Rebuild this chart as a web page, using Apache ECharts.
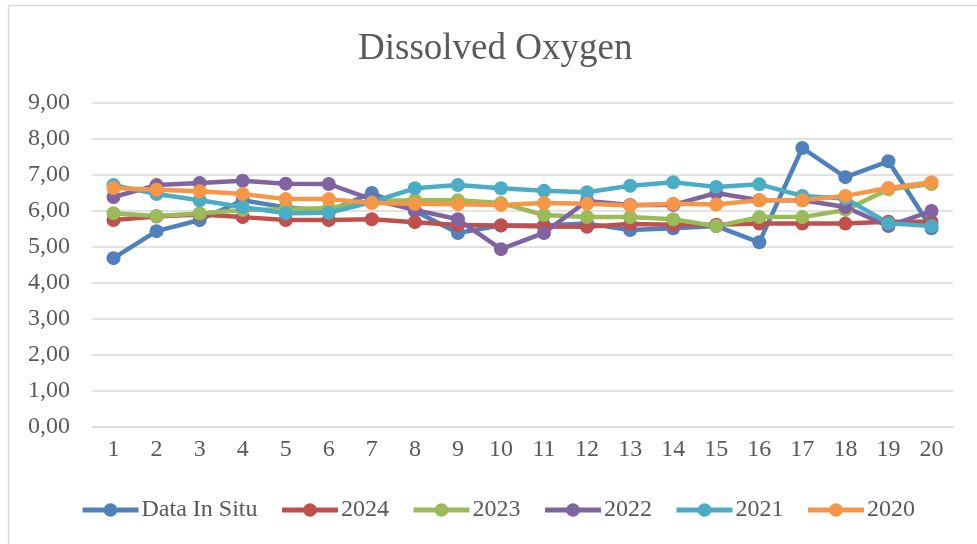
<!DOCTYPE html>
<html>
<head>
<meta charset="utf-8">
<script src="https://cdn.jsdelivr.net/npm/echarts@6/dist/echarts.min.js"></script>
<style>
  html, body { margin: 0; padding: 0; background: #fff; }
  #chart { width: 977px; height: 544px; }
</style>
</head>
<body>
<div id="chart"></div>
<script>
  // sample points 1..20
  var categories = ['1','2','3','4','5','6','7','8','9','10','11','12','13','14','15','16','17','18','19','20'];

  var inSitu = [4.69,5.44,5.75,6.30,6.10,6.00,6.50,6.00,5.39,5.60,5.60,5.65,5.47,5.52,5.58,5.13,7.75,6.94,7.38,5.52];
  var y2024  = [5.75,5.85,5.90,5.83,5.75,5.75,5.77,5.69,5.61,5.60,5.57,5.56,5.64,5.62,5.62,5.65,5.65,5.65,5.70,5.70];
  var y2023  = [5.94,5.86,5.93,6.03,6.05,6.08,6.28,6.30,6.30,6.22,5.89,5.83,5.83,5.77,5.58,5.83,5.83,6.03,6.60,6.75];
  var y2022  = [6.39,6.72,6.78,6.84,6.76,6.75,6.32,6.03,5.77,4.94,5.39,6.28,6.17,6.17,6.50,6.30,6.30,6.11,5.58,6.00];
  var y2021  = [6.72,6.47,6.30,6.11,5.94,5.95,6.25,6.63,6.72,6.63,6.56,6.52,6.70,6.80,6.67,6.74,6.42,6.35,5.66,5.58];
  var y2020  = [6.64,6.59,6.55,6.47,6.33,6.33,6.22,6.20,6.19,6.17,6.22,6.20,6.15,6.20,6.18,6.30,6.30,6.42,6.64,6.80];

  var seriesNames = ['Data In Situ','2024','2023','2022','2021','2020'];
  var seriesData = [inSitu, y2024, y2023, y2022, y2021, y2020];
  var colors = ['#4F81BD','#C0504D','#9BBB59','#8064A2','#4BACC6','#F79646'];

  var yTicks = [0,1,2,3,4,5,6,7,8,9];

  var font = '"Liberation Serif", serif';
  var textColor = '#595959';

  var series = seriesNames.map(function (name, i) {
    return {
      name: name,
      type: 'line',
      data: seriesData[i],
      symbol: 'circle',
      symbolSize: 14,
      lineStyle: { width: 4.5, color: colors[i] },
      itemStyle: { color: colors[i] }
    };
  });

  var chart = echarts.init(document.getElementById('chart'));
  chart.setOption({
    animation: false,
    color: colors,
    title: {
      text: 'Dissolved Oxygen',
      left: 353,
      top: 26,
      textStyle: { fontFamily: font, fontSize: 37, fontWeight: 'normal', color: textColor }
    },
    graphic: [{
      type: 'rect',
      shape: { x: 8.5, y: 5.5, width: 1200, height: 800 },
      style: { fill: null, stroke: '#d9d9d9', lineWidth: 1.5 },
      silent: true
    }],
    legend: {
      data: seriesNames,
      left: 80,
      top: 498,
      padding: 0,
      itemWidth: 56,
      itemHeight: 17,
      itemGap: 22,
      lineStyle: { width: 5 },
      textStyle: { fontFamily: font, fontSize: 24, color: textColor, padding: [0, 0, 0, -2] }
    },
    grid: { left: 92, right: 24, top: 103, bottom: 117 },
    xAxis: {
      type: 'category',
      data: categories,
      boundaryGap: true,
      axisLine: { lineStyle: { color: '#d9d9d9', width: 1.5 } },
      axisTick: { show: false },
      axisLabel: { fontFamily: font, fontSize: 24, color: textColor, margin: 11 }
    },
    yAxis: {
      type: 'value',
      min: yTicks[0],
      max: yTicks[yTicks.length - 1],
      interval: 1,
      axisLine: { show: false },
      axisTick: { show: false },
      splitLine: { lineStyle: { color: '#d9d9d9', width: 1.5 } },
      axisLabel: {
        fontFamily: font, fontSize: 24, color: textColor, margin: 22,
        formatter: function (v) { return v.toFixed(2).replace('.', ','); }
      }
    },
    series: series
  });
</script>
</body>
</html>
